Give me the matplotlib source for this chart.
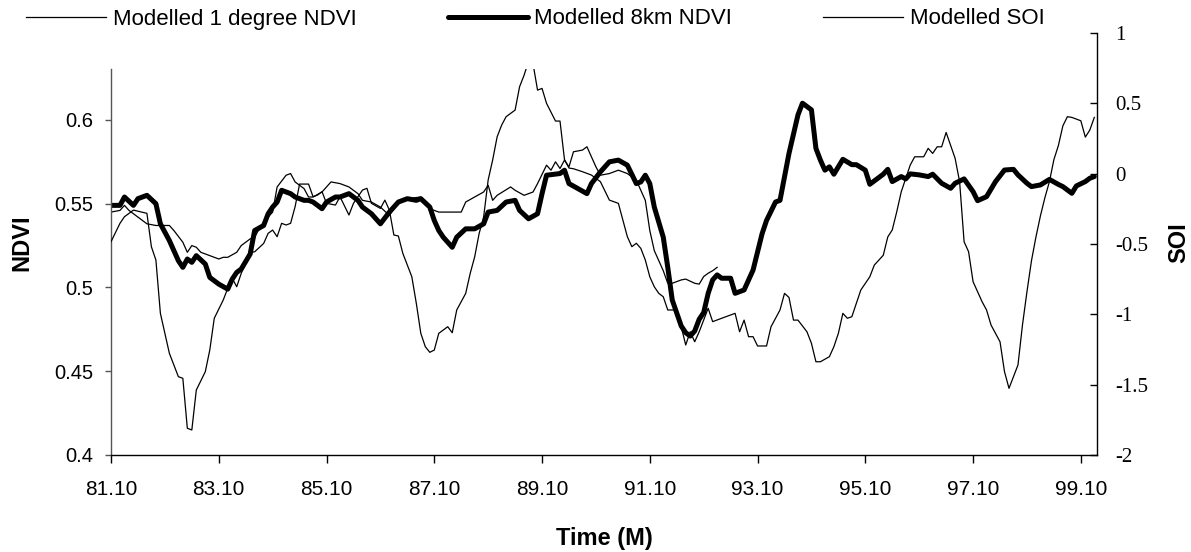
import matplotlib
matplotlib.use("Agg")
import matplotlib.pyplot as plt
from matplotlib.lines import Line2D

# month offsets from Oct 1981 and modelled values
ndvi8_month = [0, 2, 3, 5, 6, 8, 10, 11, 13, 15, 16, 17, 18, 19, 21, 22, 24, 26, 27, 28,
               29, 31, 32, 34, 35, 36, 37, 38, 40, 41, 43, 44, 45, 47, 48, 50, 51, 53, 55, 56,
               58, 60, 62, 64, 66, 68, 69, 71, 72, 73, 74, 76, 77, 79, 81, 83, 84, 86, 88, 90,
               91, 93, 95, 96, 97, 100, 101, 102, 104, 106, 107, 109, 111, 113, 115, 117, 118, 119, 120, 121,
               123, 124, 125, 127, 128, 129, 130, 131, 132, 133, 134, 135, 136, 138, 139, 141, 143, 145, 146, 148,
               149, 151, 153, 154, 156, 157, 158, 159, 160, 161, 163, 165, 166, 168, 169, 172, 173, 174, 176, 177,
               178, 180, 182, 183, 185, 187, 188, 190, 192, 193, 195, 197, 199, 201, 202, 204, 205, 207, 209, 211,
               212, 214, 215, 217, 218, 219]
ndvi8_value = [0.549, 0.549, 0.554, 0.549, 0.553, 0.555, 0.550, 0.538, 0.528, 0.516, 0.512, 0.517, 0.515, 0.519, 0.514, 0.506, 0.502, 0.499, 0.505, 0.509,
               0.511, 0.520, 0.534, 0.537, 0.544, 0.548, 0.551, 0.558, 0.556, 0.554, 0.552, 0.552, 0.551, 0.547, 0.551, 0.554, 0.554, 0.556, 0.552, 0.548,
               0.544, 0.538, 0.545, 0.551, 0.553, 0.552, 0.553, 0.548, 0.540, 0.534, 0.530, 0.524, 0.530, 0.535, 0.535, 0.538, 0.545, 0.546, 0.551, 0.552,
               0.546, 0.541, 0.544, 0.556, 0.567, 0.568, 0.570, 0.562, 0.559, 0.556, 0.562, 0.569, 0.575, 0.576, 0.573, 0.562, 0.563, 0.567, 0.562, 0.548,
               0.530, 0.512, 0.4925, 0.477, 0.473, 0.471, 0.474, 0.481, 0.485, 0.4965, 0.5045, 0.5075, 0.5055, 0.5055, 0.4965, 0.4985, 0.5104, 0.532, 0.540, 0.551,
               0.552, 0.580, 0.603, 0.610, 0.606, 0.583, 0.576, 0.570, 0.572, 0.5676, 0.5765, 0.5733, 0.5733, 0.570, 0.5616, 0.5676, 0.5705, 0.5632, 0.5662, 0.5648,
               0.5678, 0.5672, 0.5662, 0.5676, 0.5622, 0.5592, 0.5622, 0.5648, 0.5572, 0.5518, 0.5542, 0.5632, 0.5701, 0.5705, 0.5672, 0.5622, 0.5602, 0.5612, 0.5645, 0.5615,
               0.5602, 0.5562, 0.5606, 0.5632, 0.5652, 0.5662]

ndvi1_month = [0, 2, 3, 4, 6, 7, 8, 10, 11, 13, 14, 16, 17, 18, 19, 20, 21, 22, 24, 25,
               26, 28, 29, 31, 32, 33, 34, 36, 37, 39, 40, 41, 43, 44, 45, 47, 49, 51, 53, 55,
               56, 58, 60, 62, 64, 66, 69, 71, 73, 75, 78, 79, 81, 83, 84, 85, 86, 89, 90, 92,
               94, 95, 97, 98, 99, 100, 101, 102, 103, 105, 106, 107, 108, 109, 111, 113, 115, 117, 119, 120,
               121, 123, 124, 125, 127, 128, 130, 131, 132, 133, 134, 135]
ndvi1_value = [0.545, 0.546, 0.549, 0.546, 0.542, 0.540, 0.538, 0.537, 0.537, 0.537, 0.534, 0.527, 0.521, 0.525, 0.524, 0.521, 0.520, 0.519, 0.517, 0.518,
               0.518, 0.521, 0.525, 0.529, 0.530, 0.535, 0.539, 0.545, 0.560, 0.567, 0.568, 0.563, 0.559, 0.554, 0.554, 0.557, 0.563, 0.562, 0.560, 0.556,
               0.552, 0.551, 0.548, 0.543, 0.551, 0.553, 0.554, 0.547, 0.545, 0.545, 0.545, 0.551, 0.554, 0.557, 0.561, 0.552, 0.555, 0.560, 0.558, 0.555,
               0.557, 0.562, 0.573, 0.570, 0.575, 0.571, 0.576, 0.572, 0.581, 0.582, 0.584, 0.578, 0.572, 0.567, 0.568, 0.570, 0.568, 0.564, 0.552, 0.534,
               0.522, 0.510, 0.5025, 0.5025, 0.5045, 0.505, 0.5025, 0.502, 0.5065, 0.5085, 0.510, 0.512]

soi_month = [0, 2, 3, 5, 8, 9, 10, 11, 12, 13, 15, 16, 17, 18, 19, 21, 22, 23, 25, 26,
             27, 28, 29, 31, 32, 34, 35, 36, 37, 38, 39, 40, 41, 42, 44, 45, 46, 47, 48, 50,
             51, 53, 54, 56, 57, 58, 60, 61, 62, 63, 64, 65, 67, 68, 69, 70, 71, 72, 73, 75,
             76, 77, 79, 80, 81, 82, 83, 84, 85, 86, 87, 88, 90, 91, 92, 93, 94, 95, 96, 97,
             99, 100, 101, 102, 103, 105, 107, 109, 111, 113, 114, 115, 116, 117, 118, 119, 120, 121, 122, 123,
             124, 126, 127, 128, 129, 130, 131, 133, 134, 136, 139, 140, 141, 142, 143, 144, 146, 147, 149, 150,
             151, 152, 153, 155, 156, 157, 158, 160, 161, 162, 163, 164, 165, 167, 169, 170, 172, 173, 174, 175,
             176, 178, 179, 181, 182, 183, 184, 185, 186, 188, 189, 190, 191, 192, 194, 195, 196, 198, 199, 200,
             202, 203, 204, 205, 206, 207, 208, 209, 210, 211, 212, 213, 214, 216, 217, 218, 219]
soi_value = [-0.484, -0.353, -0.306, -0.259, -0.282, -0.52, -0.614, -0.993, -1.135, -1.277, -1.443, -1.455, -1.810, -1.822, -1.538, -1.408, -1.254, -1.028, -0.898, -0.815,
             -0.744, -0.804, -0.709, -0.562, -0.555, -0.496, -0.424, -0.401, -0.448, -0.353, -0.365, -0.353, -0.235, -0.074, -0.074, -0.164, -0.152, -0.128, -0.211, -0.223,
             -0.164, -0.294, -0.211, -0.117, -0.104, -0.211, -0.247, -0.188, -0.259, -0.436, -0.443, -0.567, -0.733, -0.922, -1.135, -1.230, -1.270, -1.254, -1.135, -1.088,
             -1.131, -0.969, -0.851, -0.709, -0.591, -0.424, -0.306, -0.045, 0.097, 0.262, 0.345, 0.405, 0.452, 0.618, 0.70, 0.80, 0.78, 0.594, 0.606, 0.500,
             0.374, 0.374, 0.10, 0.04, 0.035, 0.014, -0.010, -0.057, -0.188, -0.211, -0.330, -0.448, -0.519, -0.495, -0.531, -0.614, -0.733, -0.804, -0.851, -0.875,
             -0.969, -0.969, -1.088, -1.218, -1.124, -1.195, -1.124, -0.957, -1.052, -1.028, -0.993, -1.124, -1.041, -1.159, -1.159, -1.225, -1.225, -1.088, -0.969, -0.851,
             -0.88, -1.041, -1.041, -1.124, -1.206, -1.337, -1.337, -1.301, -1.230, -1.135, -0.993, -1.028, -1.017, -0.827, -0.733, -0.650, -0.58, -0.45, -0.40, -0.271,
             -0.129, 0.061, 0.120, 0.120, 0.180, 0.144, 0.191, 0.191, 0.293, 0.109, -0.057, -0.484, -0.555, -0.768, -0.910, -0.969, -1.076, -1.195, -1.408, -1.526,
             -1.360, -1.076, -0.839, -0.62, -0.45, -0.30, -0.17, -0.057, 0.10, 0.20, 0.34, 0.405, 0.40, 0.376, 0.26, 0.31, 0.40]

tick_months = list(range(0, 217, 24))
tick_labels = ["81.10", "83.10", "85.10", "87.10", "89.10",
               "91.10", "93.10", "95.10", "97.10", "99.10"]
ndvi_ticks = [0.4, 0.45, 0.5, 0.55, 0.6]
ndvi_tick_labels = ["0.4", "0.45", "0.5", "0.55", "0.6"]
soi_ticks = [-2, -1.5, -1, -0.5, 0, 0.5, 1]
soi_tick_labels = ["-2", "-1.5", "-1", "-0.5", "0", "0.5", "1"]

W, H = 1191, 552
fig = plt.figure(figsize=(W / 100, H / 100), dpi=100)
fig.patch.set_facecolor("white")

sans = "Liberation Sans"
serif = "Liberation Serif"

x0, x1 = 111, 1097
ax = fig.add_axes([x0 / W, (H - 455) / H, (x1 - x0) / W, (455 - 69) / H])
ax_soi = fig.add_axes([x0 / W, (H - 455) / H, (x1 - x0) / W, (455 - 33) / H])
ax_soi.patch.set_alpha(0)

xmax = 219.6
ax.set_xlim(0, xmax)
ax.set_ylim(0.4, 0.6304)
ax_soi.set_xlim(0, xmax)
ax_soi.set_ylim(-2, 1)

l1, = ax.plot(ndvi1_month, ndvi1_value, color="black", lw=0.9)
l8, = ax.plot(ndvi8_month, ndvi8_value, color="black", lw=3.6,
              solid_joinstyle="round", solid_capstyle="round")
ls, = ax_soi.plot(soi_month, soi_value, color="black", lw=0.9)
# SOI is only drawn inside the NDVI plot area
ls.set_clip_path(ax.patch)

# primary axis styling
for side in ("top", "right"):
    ax.spines[side].set_visible(False)
ax.spines["left"].set_color("#555555")
ax.spines["left"].set_linewidth(1.0)
ax.spines["bottom"].set_linewidth(1.0)
ax.set_xticks(tick_months)
ax.set_xticklabels(tick_labels, fontsize=15, family=sans)
ax.set_yticks(ndvi_ticks)
ax.set_yticklabels(ndvi_tick_labels, fontsize=14.5, family=sans)
ax.tick_params(axis="x", direction="out", length=6, width=1, pad=12)
ax.tick_params(axis="y", direction="out", length=4, width=1, pad=9, color="#555555")
ax.set_xlabel("Time (M)", fontsize=17, fontweight="bold", family=sans, labelpad=20)
ax.set_ylabel("NDVI", fontsize=17, fontweight="bold", family=sans)
# label anchor is the right edge of the rotated text
ax.yaxis.set_label_coords((33 - x0) / (x1 - x0), (455 - 243) / (455 - 69))

# secondary axis styling
for side in ("top", "left", "bottom"):
    ax_soi.spines[side].set_visible(False)
ax_soi.spines["right"].set_linewidth(1.0)
ax_soi.xaxis.set_visible(False)
ax_soi.yaxis.tick_right()
ax_soi.yaxis.set_label_position("right")
ax_soi.set_yticks(soi_ticks)
ax_soi.set_yticklabels(soi_tick_labels, fontsize=15, family=serif)
ax_soi.tick_params(axis="y", direction="in", length=5, width=1, pad=13)
ax_soi.set_ylabel("SOI", fontsize=17, fontweight="bold", family=sans, rotation=90)
# label anchor is the left edge of the rotated text
ax_soi.yaxis.set_label_coords((1167 - x0) / (x1 - x0), (455 - 243) / (455 - 33))

handles = [Line2D([], [], color="black", lw=0.9),
           Line2D([], [], color="black", lw=3.6, solid_capstyle="round"),
           Line2D([], [], color="black", lw=0.9)]
labels = ["Modelled 1 degree NDVI", "Modelled 8km NDVI", "Modelled SOI"]
fig.legend(handles, labels, loc="center left", bbox_to_anchor=(26 / W, 1 - 19 / H),
           ncol=3, frameon=False, borderpad=0, borderaxespad=0,
           handlelength=3.6, handletextpad=0.3, columnspacing=4.1,
           prop={"family": sans, "size": 16})

fig.savefig("out.png", dpi=100, facecolor="white")
